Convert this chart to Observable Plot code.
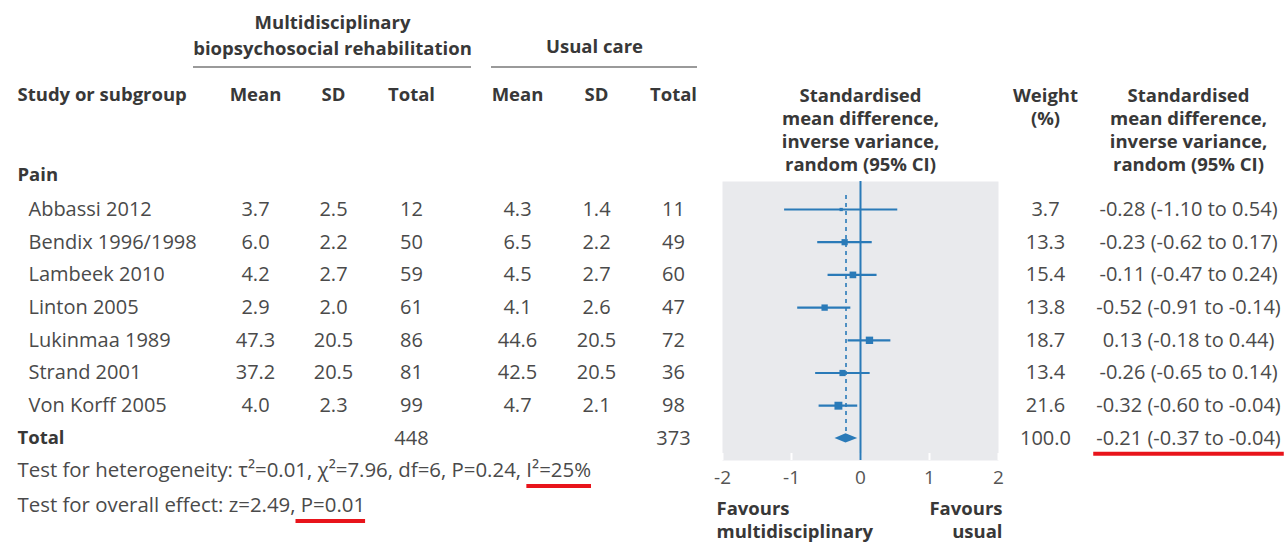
<!DOCTYPE html>
<html><head><meta charset="utf-8">
<script src="https://cdn.jsdelivr.net/npm/d3@7"></script>
<script src="https://cdn.jsdelivr.net/npm/@observablehq/plot@0.6"></script>
<style>html,body{margin:0;padding:0;background:#fff;} #chart{width:1286px;height:545px;overflow:hidden;}</style>
</head><body><div id="chart"></div>
<script>
// ---------- data ----------
const studies  = ["Abbassi 2012", "Bendix 1996/1998", "Lambeek 2010", "Linton 2005", "Lukinmaa 1989", "Strand 2001", "Von Korff 2005"];
const mdMean   = [3.7, 6.0, 4.2, 2.9, 47.3, 37.2, 4.0];
const mdSD     = [2.5, 2.2, 2.7, 2.0, 20.5, 20.5, 2.3];
const mdTotal  = [12, 50, 59, 61, 86, 81, 99];
const ucMean   = [4.3, 6.5, 4.5, 4.1, 44.6, 42.5, 4.7];
const ucSD     = [1.4, 2.2, 2.7, 2.6, 20.5, 20.5, 2.1];
const ucTotal  = [11, 49, 60, 47, 72, 36, 98];
const weights  = [3.7, 13.3, 15.4, 13.8, 18.7, 13.4, 21.6];
const smd      = [-0.28, -0.23, -0.11, -0.52, 0.13, -0.26, -0.32];
const ciLow    = [-1.10, -0.62, -0.47, -0.91, -0.18, -0.65, -0.60];
const ciHigh   = [0.54, 0.17, 0.24, -0.14, 0.44, 0.14, -0.04];
const totalMd = 448, totalUc = 373, totalWeight = 100.0;
const totalSmd = -0.21, totalLow = -0.37, totalHigh = -0.04;
const xTicks = [-2, -1, 0, 1, 2];
const heterogeneity = "Test for heterogeneity: τ²=0.01, χ²=7.96, df=6, P=0.24, I²=25%";
const overall = "Test for overall effect: z=2.49, P=0.01";

// ---------- layout ----------
const W = 1286, H = 545;
const frameL = 722, frameR = 998, frameT = 181, frameB = 460;
const row0 = 209, rowStep = 32.7;
const FS = 20;      // regular text
const FSB = 18.5;   // bold headers
const FONT = "'Open Sans', sans-serif";
const BLUE = "#2a7ab8";
const TXT = "#4a4a4a", BOLD = "#383838";
const colX = {label: 17, study: 28, mdMean: 255, mdSD: 333, mdTotal: 411, ucMean: 517, ucSD: 596, ucTotal: 673, weight: 1045, ci: 1188};

const f1 = v => v.toFixed(1);
const f2 = v => v.toFixed(2);
const ciStr = (m, l, h) => `${f2(m)} (${f2(l)} to ${f2(h)})`;

const totalIdx = studies.length;
const rows = studies.map((s, i) => ({
  i, study: s,
  mdMean: f1(mdMean[i]), mdSD: f1(mdSD[i]), mdTotal: String(mdTotal[i]),
  ucMean: f1(ucMean[i]), ucSD: f1(ucSD[i]), ucTotal: String(ucTotal[i]),
  weight: weights[i], weightStr: f1(weights[i]),
  smd: smd[i], lo: ciLow[i], hi: ciHigh[i], ci: ciStr(smd[i], ciLow[i], ciHigh[i])
}));
const totalRow = {i: totalIdx, mdTotal: String(totalMd), ucTotal: String(totalUc), weightStr: f1(totalWeight), ci: ciStr(totalSmd, totalLow, totalHigh)};
const tableRows = [...rows, totalRow];

// diamond half-height in row units
const dh = 4.7 / rowStep;
const diamond = [
  {x: totalLow, h: 0}, {x: totalSmd, h: dh}, {x: totalHigh, h: 0}
];

const yTop = -(row0 - frameT) / rowStep;
const yBot = totalIdx + (frameB - (row0 + totalIdx * rowStep)) / rowStep;

function col(key, opts = {}) {
  return Plot.text(tableRows.filter(d => d[key] != null), {
    y: "i", text: key, frameAnchor: "left", dx: colX[opts.col || key] - frameL,
    textAnchor: "middle", fill: TXT, fontSize: FS, ...opts
  });
}
function label(str, x, y, opts = {}) {
  const lines = str.split("\n").length;
  const fs = opts.fontSize || FSB;
  const dyExtra = lines > 1 ? -0.59 * fs : 0;
  return Plot.text([str], {
    text: d => d, frameAnchor: "top-left", dx: x - frameL, dy: y - frameT + dyExtra,
    lineAnchor: lines > 1 ? "top" : "middle", textAnchor: "middle", fill: BOLD, fontWeight: "bold", fontSize: fs, ...opts
  });
}

const chart = Plot.plot({
  width: W, height: H,
  marginLeft: frameL, marginRight: W - frameR, marginTop: frameT, marginBottom: H - frameB,
  style: {fontFamily: FONT, fontSize: FS + "px", color: TXT, background: "#fff", overflow: "visible"},
  x: {domain: [-2, 2]},
  y: {domain: [yTop, yBot], reverse: true, axis: null},
  r: {type: "sqrt", domain: [0, 100], range: [0, 9.6]},
  marks: [
    Plot.frame({fill: "#e9eaed", stroke: "none"}),
    Plot.ruleX(xTicks, {stroke: "white", strokeWidth: 2, insetTop: frameB - frameT - 7}),
    Plot.axisX({ticks: xTicks, tickFormat: d => String(d), tickSize: 0, tickPadding: 10, label: null, fontSize: 19, fill: "#555"}),
    Plot.ruleX([0], {stroke: BLUE, strokeWidth: 2}),
    Plot.ruleX([totalSmd], {stroke: BLUE, strokeWidth: 1.6, strokeDasharray: "4,4", insetTop: 14, insetBottom: 26}),
    Plot.ruleY(rows, {y: "i", x1: "lo", x2: "hi", stroke: BLUE, strokeWidth: 2.2}),
    Plot.dot(rows, {x: "smd", y: "i", r: "weight", symbol: "square", fill: BLUE, stroke: "none"}),
    Plot.areaY(diamond, {x: "x", y1: d => totalIdx - d.h, y2: d => totalIdx + d.h, fill: BLUE}),

    // table body
    Plot.text(rows, {y: "i", text: "study", frameAnchor: "left", dx: colX.study - frameL, textAnchor: "start", fill: TXT, fontSize: FS}),
    Plot.text([totalRow], {y: "i", text: () => "Total", frameAnchor: "left", dx: colX.label - frameL, textAnchor: "start", fill: BOLD, fontWeight: "bold", fontSize: FSB}),
    col("mdMean"), col("mdSD"), col("mdTotal"),
    col("ucMean"), col("ucSD"), col("ucTotal"),
    col("weightStr", {col: "weight"}), col("ci"),

    // headers
    label("Multidisciplinary\nbiopsychosocial rehabilitation", 332, 22, {lineHeight: 1.36}),
    label("Usual care", 594, 47),
    label("Study or subgroup", colX.label, 95, {textAnchor: "start"}),
    label("Mean", colX.mdMean, 95), label("SD", colX.mdSD, 95), label("Total", colX.mdTotal, 95),
    label("Mean", colX.ucMean, 95), label("SD", colX.ucSD, 95), label("Total", colX.ucTotal, 95),
    label("Standardised\nmean difference,\ninverse variance,\nrandom (95% CI)", 860, 96, {lineHeight: 1.25}),
    label("Weight\n(%)", colX.weight, 96, {lineHeight: 1.25}),
    label("Standardised\nmean difference,\ninverse variance,\nrandom (95% CI)", colX.ci, 96, {lineHeight: 1.25}),
    label("Pain", colX.label, 175, {textAnchor: "start"}),

    // footer
    label(heterogeneity, colX.label, 470, {textAnchor: "start", fontWeight: "normal", fill: TXT, fontSize: 20.4}),
    label(overall, colX.label, 505, {textAnchor: "start", fontWeight: "normal", fill: TXT, fontSize: 20.4}),
    label("Favours\nmultidisciplinary", 716, 509, {textAnchor: "start", lineHeight: 1.25}),
    label("Favours\nusual", 1002, 509, {textAnchor: "end", lineHeight: 1.25})
  ]
});
document.getElementById("chart").appendChild(chart);

// ---------- decorations derived from rendered text ----------
const svg = d3.select(chart);
// group header rules
[[193, 471], [491, 697]].forEach(([a, b]) => {
  svg.append("line").attr("x1", a).attr("x2", b).attr("y1", 67).attr("y2", 67)
    .attr("stroke", "#9a9a9a").attr("stroke-width", 2);
});
function underline(textEl, substr, pad = 0) {
  const s = textEl.textContent;
  const idx = s.lastIndexOf(substr);
  if (idx < 0) return;
  const m = chart.getScreenCTM().inverse().multiply(textEl.getScreenCTM());
  const p0 = textEl.getStartPositionOfChar(idx);
  const p1 = textEl.getEndPositionOfChar(idx + substr.length - 1);
  const a = new DOMPoint(p0.x, p0.y).matrixTransform(m);
  const b = new DOMPoint(p1.x, p1.y).matrixTransform(m);
  svg.append("line").attr("x1", a.x - pad).attr("x2", b.x + pad)
    .attr("y1", a.y + 9).attr("y2", a.y + 9)
    .attr("stroke", "#e8141b").attr("stroke-width", 4);
}
const allTexts = Array.from(chart.querySelectorAll("text"));
const findText = s => allTexts.find(t => t.textContent === s);
const het = findText(heterogeneity);
const ov = findText(overall);
const ciT = findText(totalRow.ci);
if (het) underline(het, "I²=25%");
if (ov) underline(ov, " P=0.01");
if (ciT) underline(ciT, totalRow.ci, 3);
</script>
</body></html>
